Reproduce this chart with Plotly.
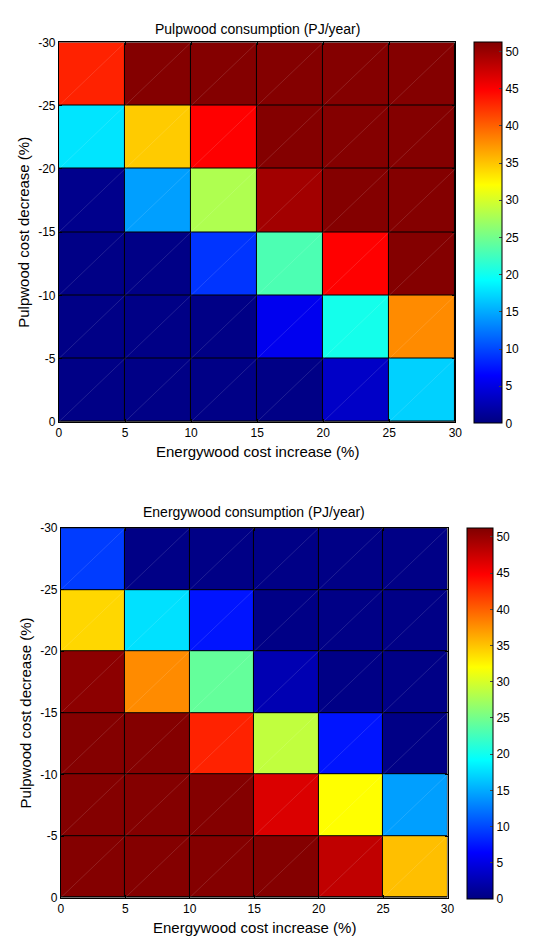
import plotly.graph_objects as go

# Cell edges
energy_edges = [0, 5, 10, 15, 20, 25, 30]          # Energywood cost increase (%)
pulp_edges = [-30, -25, -20, -15, -10, -5, 0]       # Pulpwood cost decrease (%)
energy_ticktext = ["0", "5", "10", "15", "20", "25", "30"]
pulp_ticktext = ["-30", "-25", "-20", "-15", "-10", "-5", "0"]

# Values (PJ/year), rows from -30 (top) to 0 (bottom), columns 0..30
pulpwood = [
    [43.1, 51.0, 51.0, 51.0, 51.0, 51.0],
    [17.9, 34.6, 44.8, 51.0, 51.0, 51.0],
    [0.6, 14.4, 28.0, 49.5, 51.0, 51.0],
    [0.3, 0.3, 9.0, 23.0, 44.8, 51.0],
    [0.3, 0.3, 0.3, 5.6, 20.2, 37.8],
    [0.3, 0.3, 0.3, 0.3, 3.6, 16.9],
]
energywood = [
    [9.4, 0.3, 0.3, 0.3, 0.3, 0.3],
    [34.0, 17.7, 7.4, 0.3, 0.3, 0.3],
    [50.6, 37.8, 24.2, 2.5, 0.3, 0.3],
    [51.0, 51.0, 43.1, 28.9, 7.4, 0.3],
    [51.0, 51.0, 51.0, 46.6, 32.0, 14.4],
    [51.0, 51.0, 51.0, 51.0, 48.0, 35.2],
]
cbar_ticks = [0, 5, 10, 15, 20, 25, 30, 35, 40, 45, 50]
zmax = 51.2

titles = ["Pulpwood consumption (PJ/year)", "Energywood consumption (PJ/year)"]
xlabel = "Energywood cost increase (%)"
ylabel = "Pulpwood cost decrease (%)"

# MATLAB jet colormap
jet = [
    [0.0, "rgb(0,0,128)"],
    [0.125, "rgb(0,0,255)"],
    [0.375, "rgb(0,255,255)"],
    [0.625, "rgb(255,255,0)"],
    [0.875, "rgb(255,0,0)"],
    [1.0, "rgb(128,0,0)"],
]

W, H = 533, 943
font = "Liberation Sans, Arial, sans-serif"

plots = [
    dict(px=(57, 461), py=(36, 421), cb=(480, 28, 36, 387), title_y=22, xt_y=451, yt_x=20),
    dict(px=(59, 453), py=(529, 904), cb=(473, 26, 529, 377), title_y=513, xt_y=934, yt_x=23),
]

fig = go.Figure()
layout = dict(
    width=W, height=H,
    margin=dict(l=0, r=0, t=0, b=0),
    paper_bgcolor="white",
    plot_bgcolor="black",
    showlegend=False,
    font=dict(family=font, size=12, color="black"),
    annotations=[],
)

for i, (data, p) in enumerate(zip([pulpwood, energywood], plots)):
    xa = "x" if i == 0 else "x2"
    ya = "y" if i == 0 else "y2"
    cbx, cbt, cby, cbl = p["cb"]
    fig.add_trace(go.Heatmap(
        z=data, x=energy_edges, y=pulp_edges,
        colorscale=jet, zmin=0, zmax=zmax,
        xgap=1, ygap=1,
        xaxis=xa, yaxis=ya,
        colorbar=dict(
            x=cbx / W, xanchor="left", xpad=0,
            y=1 - cby / H, yanchor="top", ypad=0,
            len=cbl / H, lenmode="fraction",
            thickness=cbt, thicknessmode="pixels",
            outlinecolor="black", outlinewidth=1,
            tickvals=cbar_ticks, ticks="inside", ticklen=3,
            tickfont=dict(family=font, size=12, color="black"),
        ),
    ))
    # faint diagonal rendering lines in each cell
    dx, dy = [], []
    for r in range(len(pulp_edges) - 1):
        for c in range(len(energy_edges) - 1):
            dx += [energy_edges[c], energy_edges[c + 1], None]
            dy += [pulp_edges[r + 1], pulp_edges[r], None]
    fig.add_trace(go.Scatter(
        x=dx, y=dy, mode="lines", xaxis=xa, yaxis=ya,
        line=dict(color="rgba(255,255,255,0.25)", width=0.5),
        hoverinfo="skip",
    ))
    x0, x1 = p["px"]
    y0, y1 = p["py"]
    axcommon = dict(
        showgrid=False, zeroline=False,
        showline=True, linecolor="black", linewidth=1, mirror="ticks",
        ticks="inside", ticklen=3, tickcolor="black",
        tickfont=dict(family=font, size=12, color="black"),
    )
    layout["xaxis" if i == 0 else "xaxis2"] = dict(
        axcommon, domain=[x0 / W, x1 / W], range=[0, 30],
        anchor=ya, tickvals=energy_edges, ticktext=energy_ticktext,
    )
    layout["yaxis" if i == 0 else "yaxis2"] = dict(
        axcommon, domain=[1 - y1 / H, 1 - y0 / H], range=[0, -30],
        anchor=xa, tickvals=pulp_edges, ticktext=pulp_ticktext,
    )
    cx = (x0 + x1) / 2 / W
    layout["annotations"] += [
        dict(text=titles[i], x=cx, y=1 - p["title_y"] / H, xref="paper", yref="paper",
             showarrow=False, font=dict(family=font, size=14), xanchor="center", yanchor="middle"),
        dict(text=xlabel, x=cx, y=1 - p["xt_y"] / H, xref="paper", yref="paper",
             showarrow=False, font=dict(family=font, size=15), xanchor="center", yanchor="middle"),
        dict(text=ylabel, x=p["yt_x"] / W, y=1 - (y0 + y1) / 2 / H, xref="paper", yref="paper",
             showarrow=False, textangle=-90, font=dict(family=font, size=15),
             xanchor="center", yanchor="middle"),
    ]

fig.update_layout(**layout)
fig.write_html("out.html")
